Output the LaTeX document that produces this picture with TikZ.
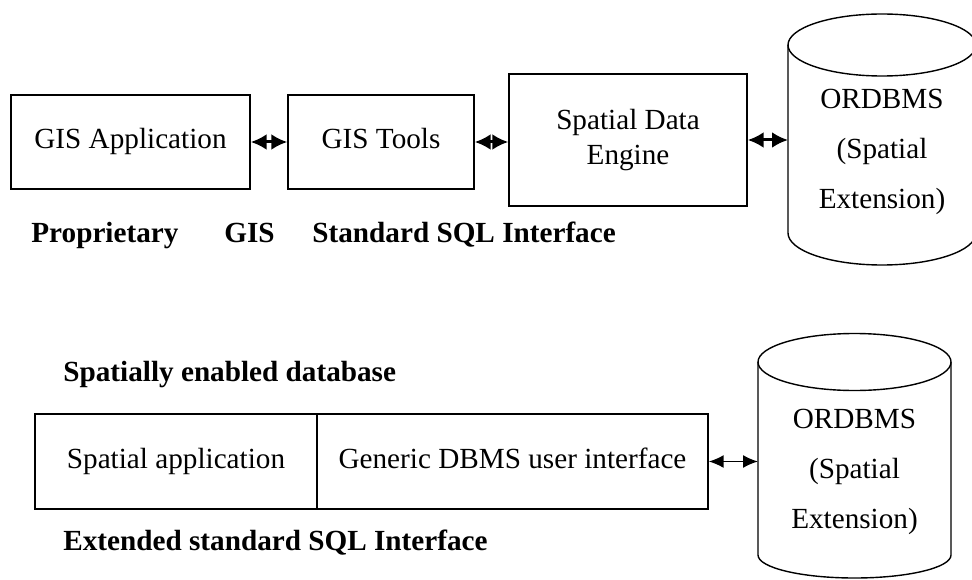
\documentclass[tikz,border=0pt]{standalone}
\usepackage{fontspec}
\setmainfont{Liberation Serif}
\usetikzlibrary{arrows.meta}
\begin{document}
\begin{tikzpicture}[x=0.5pt,y=0.5pt,
    box/.style={draw,line width=0.7pt,inner sep=0pt,align=center,
      font=\fontsize{14.6}{17.5}\selectfont},
    oneline/.style={text height=10pt,text depth=3pt},
    tag/.style={inner sep=0pt,anchor=base west,
      font=\fontsize{14.6}{17.5}\selectfont\bfseries},
    dbtext/.style={inner sep=0pt,align=center,
      font=\fontsize{14.6}{25}\selectfont},
    dbline/.style={line width=0.7pt},
    link/.style={{Latex[length=8pt,width=8pt]}-{Latex[length=8pt,width=8pt]},
      line width=1.5pt},
    thinlink/.style={{Latex[length=7.5pt,width=6.5pt]}-{Latex[length=7.5pt,width=6.5pt]},
      line width=0.8pt}]
  \useasboundingbox (0,0) rectangle (972,579);
  \clip (0,0) rectangle (972,579);

  % Upper chain: application, tools, engine
  \node[box,oneline,minimum width=119.5pt,minimum height=47pt] (app) at (130.5,437) {GIS Application};
  \node[box,oneline,minimum width=93pt,minimum height=47pt] (tools) at (381,437) {GIS Tools};
  \node[box,minimum width=119pt,minimum height=66pt] (engine) at (628,439) {Spatial Data\\Engine};

  % Upper database cylinder
  \draw[dbline] (788,534) -- (788,346) arc[start angle=180,end angle=360,x radius=94,y radius=32] -- (976,534);
  \draw[dbline] (882,534) ellipse [x radius=94,y radius=31];
  \coordinate (db1in) at (788,438);
  \node[dbtext] (db1) at (882,427) {ORDBMS\\(Spatial\\Extension)};

  % Upper links
  \draw[link] (app.east) -- (app.east -| tools.west);
  \draw[link] (tools.east) -- (tools.east -| engine.west);
  \draw[link] (engine.east) -- (engine.east -| db1in);

  % Upper labels
  \node[tag] (prop) at (31,336) {Proprietary};
  \node[tag] (gis) at (224,336) {GIS};
  \node[tag] (stdsql) at (312,336) {Standard SQL Interface};

  % Lower block
  \node[tag] (spdb) at (63,198) {Spatially enabled database};
  \node[box,oneline,minimum width=141pt,minimum height=47.5pt] (spapp) at (176,117.5) {Spatial application};
  \node[box,oneline,minimum width=195.5pt,minimum height=47.5pt] (generic) at (512.5,117.5) {Generic DBMS user interface};
  \node[tag] (extsql) at (63,29) {Extended standard SQL Interface};

  % Lower database cylinder
  \draw[dbline] (758,217) -- (758,24) arc[start angle=180,end angle=360,x radius=96.5,y radius=23] -- (951,217);
  \draw[dbline] (854.5,217) ellipse [x radius=96.5,y radius=28.5];
  \coordinate (db2in) at (758,119);
  \node[dbtext] (db2) at (854.5,107) {ORDBMS\\(Spatial\\Extension)};

  % Lower link
  \draw[thinlink] (generic.east) -- (generic.east -| db2in);
\end{tikzpicture}
\end{document}
